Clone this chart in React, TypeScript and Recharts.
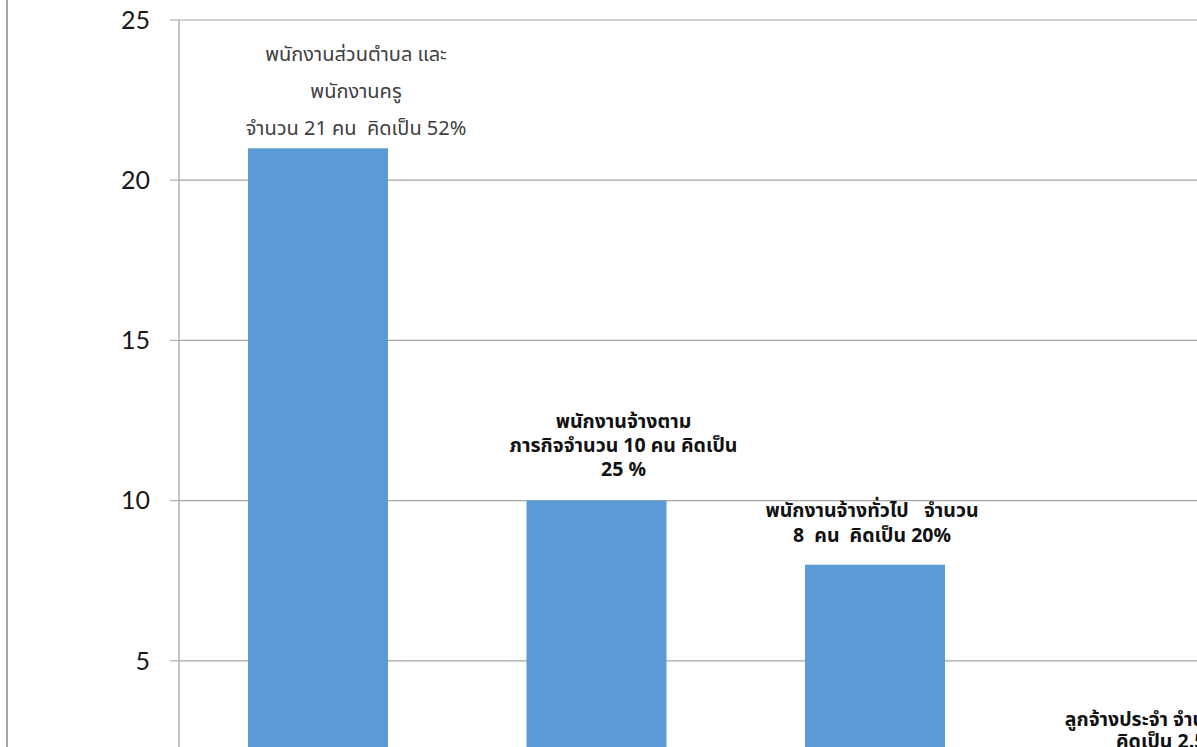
import React from 'react';
import { BarChart, Bar, XAxis, YAxis, CartesianGrid, LabelList } from 'recharts';

const staffCategories = ['พนักงานส่วนตำบลและพนักงานครู', 'พนักงานจ้างตามภารกิจ', 'พนักงานจ้างทั่วไป', 'ลูกจ้างประจำ'];
const staffCounts = [21, 10, 8, 1];
const staffLabelLines = [
  ['พนักงานส่วนตำบล และ', 'พนักงานครู', 'จำนวน 21 คน  คิดเป็น 52%'],
  ['พนักงานจ้างตาม', 'ภารกิจจำนวน 10 คน คิดเป็น', '25 %'],
  ['พนักงานจ้างทั่วไป   จำนวน', '8  คน  คิดเป็น 20%'],
  ['ลูกจ้างประจำ จำนวน 1 คน', 'คิดเป็น 2.5%'],
];
// the 0 tick sits below the visible crop of the sheet
const yTicks = [5, 10, 15, 20, 25];

// hand placed label boxes, like the source sheet
const labelPlacement = [
  { dx: 38, gap: 19, lineHeight: 37, size: 20, bold: false, color: '#404040' },
  { dx: 27, gap: 31, lineHeight: 24, size: 19.5, bold: true, color: '#111' },
  { dx: -3, gap: 29, lineHeight: 25, size: 19.5, bold: true, color: '#111' },
  { dx: 16, gap: 47, lineHeight: 22, size: 19.5, bold: true, color: '#111' },
];

const chartData = staffCategories.map((name, i) => ({ name, count: staffCounts[i] }));

const THAI_FONT = "Tahoma, 'Noto Sans Thai', 'Noto Sans', 'DejaVu Sans', sans-serif";

function StaffLabel(props: any) {
  const { x, y, width, index } = props;
  const lines = staffLabelLines[index];
  const place = labelPlacement[index];
  const cx = Number(x) + Number(width) / 2 + place.dx;
  const lastY = Number(y) - place.gap;
  const firstY = lastY - (lines.length - 1) * place.lineHeight;
  return (
    <text
      textAnchor="middle"
      dominantBaseline="central"
      fontFamily={THAI_FONT}
      fontSize={place.size}
      fontWeight={place.bold ? 700 : 400}
      fill={place.color}
      style={{ whiteSpace: 'pre' }}
    >
      {lines.map((line, k) => (
        <tspan key={k} x={cx} y={firstY + k * place.lineHeight}>
          {line}
        </tspan>
      ))}
    </text>
  );
}

export default function App(): React.JSX.Element {
  return (
    <div style={{ position: 'fixed', left: 0, top: 0, width: 1197, height: 747, overflow: 'hidden', background: '#fff' }}>
      <div style={{ position: 'absolute', left: 6, top: 0, width: 2, height: 747, background: '#a6a6a6' }} />
      <div style={{ position: 'absolute', left: 0, top: 0 }}>
        <BarChart
          width={1303}
          height={850}
          data={chartData}
          margin={{ top: 20, right: 10, left: 0, bottom: 29 }}
          barSize={140}
        >
          <CartesianGrid horizontal vertical={false} stroke="#a6a6a6" strokeWidth={1.2} />
          <XAxis dataKey="name" hide />
          <YAxis
            width={179}
            domain={[0, 25]}
            ticks={yTicks}
            interval={0}
            axisLine={{ stroke: '#b0b0b0', strokeWidth: 1.5 }}
            tickLine={{ stroke: '#b0b0b0', strokeWidth: 1.2 }}
            tickSize={9}
            tickMargin={20}
            tick={{ fontFamily: 'Lato, sans-serif', fontSize: 25, fill: '#1a1a1a' }}
          />
          <Bar dataKey="count" fill="#5b9bd5" isAnimationActive={false}>
            <LabelList dataKey="count" content={<StaffLabel />} />
          </Bar>
        </BarChart>
      </div>
    </div>
  );
}
